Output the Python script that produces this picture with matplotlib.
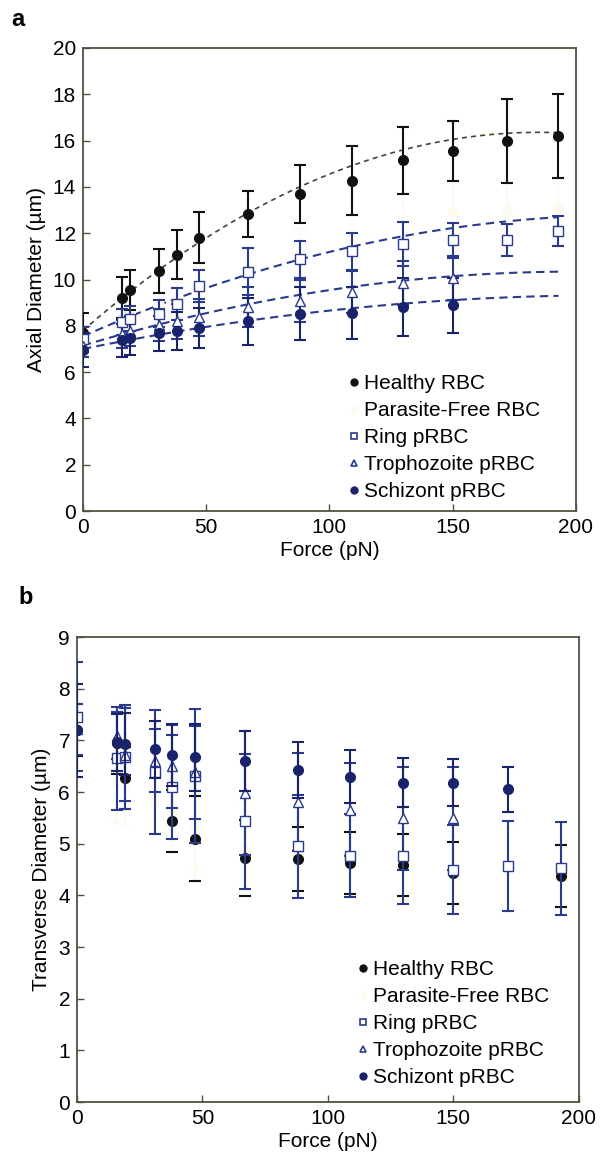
import numpy as np
import matplotlib
matplotlib.use('Agg')
import matplotlib.pyplot as plt
from matplotlib.lines import Line2D

plt.rcParams['font.family'] = ['Liberation Sans', 'DejaVu Sans']

# applied force (pN)
force = [0, 16, 19, 31, 38, 47, 67, 88, 109, 130, 150, 172, 193]
force_short = force[:11]
force_schiz_b = force[:12]

# panel a: axial diameter (um)
healthy_ax = [7.71, 9.22, 9.55, 10.36, 11.08, 11.8, 12.83, 13.69, 14.27, 15.15, 15.55, 15.99, 16.2]
healthy_ax_err = [0.86, 0.9, 0.85, 0.95, 1.05, 1.1, 1.0, 1.25, 1.5, 1.45, 1.3, 1.8, 1.8]
pfree_ax = [7.5, 8.3, 8.6, 8.9, 9.1, 9.6, 10.5, 11.1, 11.8, 12.6, 12.9, 13.0, 13.1]
pfree_ax_err = [0.6, 0.7, 0.7, 0.5, 0.8, 0.9, 0.9, 1.1, 0.95, 1.1, 1.3, 1.15, 1.2]
ring_ax = [7.43, 8.17, 8.31, 8.53, 8.93, 9.72, 10.34, 10.87, 11.23, 11.54, 11.69, 11.69, 12.09]
ring_ax_err = [0.5, 0.55, 0.55, 0.6, 0.7, 0.7, 1.0, 0.8, 0.8, 0.95, 0.75, 0.69, 0.66]
troph_ax = [7.14, 7.64, 7.78, 8.04, 8.19, 8.36, 8.82, 9.08, 9.46, 9.83, 10.05]
troph_ax_err = [0.5, 0.6, 0.65, 0.7, 0.75, 0.8, 0.85, 0.9, 0.9, 0.95, 0.95]
schiz_ax = [6.95, 7.38, 7.47, 7.67, 7.78, 7.9, 8.19, 8.53, 8.57, 8.82, 8.89]
schiz_ax_err = [0.75, 0.71, 0.72, 0.77, 0.83, 0.86, 1.0, 1.15, 1.12, 1.25, 1.18]

# quadratic trend lines of panel a (c2, c1, c0)
healthy_fit = [-2.5e-4, 0.0925, 7.8]
ring_fit = [-1.05e-4, 0.0469, 7.55]
troph_fit = [-7.97e-5, 0.0319, 7.15]
schiz_fit = [-5.03e-5, 0.0216, 7.0]

# panel b: transverse diameter (um)
healthy_tr = [7.2, 6.95, 6.28, np.nan, 5.43, 5.1, 4.72, 4.7, 4.62, 4.59, 4.43, np.nan, 4.37]
healthy_tr_err = [0.5, 0.6, 0.6, 0.6, 0.6, 0.82, 0.73, 0.62, 0.6, 0.6, 0.6, 0.6, 0.6]
pfree_tr = [7.2, 6.2, 6.1, 5.8, 5.55, 5.35, 4.9, 4.8, 4.7, 4.6, 4.5, 4.5, 4.4]
pfree_tr_err = [0.5, 0.8, 0.75, 0.6, 0.7, 0.8, 0.9, 0.7, 0.75, 0.7, 0.65, 0.8, 0.65]
ring_tr = [7.46, 6.65, 6.68, 6.39, 6.1, 6.31, 5.43, 4.95, 4.77, 4.77, 4.5, 4.57, 4.52]
ring_tr_err = [1.05, 1.0, 1.0, 1.2, 1.0, 1.3, 1.3, 1.0, 0.8, 0.94, 0.87, 0.87, 0.9]
troph_tr = [7.21, 7.09, 6.72, 6.61, 6.5, 6.38, 5.99, 5.8, 5.66, 5.49, 5.49]
troph_tr_err = [0.5, 0.45, 0.9, 0.6, 0.8, 0.9, 1.2, 0.95, 0.9, 1.0, 1.0]
schiz_tr = [7.2, 6.96, 6.93, 6.83, 6.72, 6.67, 6.6, 6.43, 6.3, 6.18, 6.18, 6.05]
schiz_tr_err = [0.9, 0.55, 0.6, 0.55, 0.6, 0.65, 0.58, 0.54, 0.51, 0.47, 0.46, 0.44]

labels = ['Healthy RBC', 'Parasite-Free RBC', 'Ring pRBC', 'Trophozoite pRBC', 'Schizont pRBC']

BLACK = '#111111'
PALE = '#fdfbef'
BLUE = '#2a3b8c'
NAVY = '#18236b'
FRAME = '#4b5540'


def draw_series(ax, x, y, err, color, marker, mfc, ms, capcolor=None, zorder=3):
    eb = ax.errorbar(x, y, yerr=err, fmt=marker, color=color, mfc=mfc, mec=color,
                     ms=ms, ecolor=color, elinewidth=1.5, capsize=4, capthick=1.5,
                     zorder=zorder)
    if capcolor is not None:
        for cl in eb[1]:
            cl.set_color(capcolor)
    return eb


def style_axes(ax, ylim, yticks):
    ax.set_xlim(0, 200)
    ax.set_ylim(*ylim)
    ax.set_xticks([0, 50, 100, 150, 200])
    ax.set_yticks(yticks)
    ax.tick_params(direction='in', length=5, width=1, labelsize=15, colors=FRAME,
                   labelcolor='black', pad=5)
    for sp in ax.spines.values():
        sp.set_color(FRAME)
        sp.set_linewidth(1.3)
    ax.set_xlabel('Force (pN)', fontsize=15, labelpad=3)


# legend keys: marker only, small
legend_keys = [
    Line2D([], [], ls='none', marker='o', color=BLACK, mfc=BLACK, ms=5),
    Line2D([], [], ls='none', marker='o', color=PALE, mfc=PALE, ms=5),
    Line2D([], [], ls='none', marker='s', color=BLUE, mfc='white', ms=4.5, mew=1.2),
    Line2D([], [], ls='none', marker='^', color=BLUE, mfc='white', ms=5, mew=1.2),
    Line2D([], [], ls='none', marker='o', color=NAVY, mfc=NAVY, ms=5),
]


def add_legend(ax, anchor):
    ax.legend(legend_keys, labels, loc='lower left', bbox_to_anchor=anchor,
              frameon=False, fontsize=15, handlelength=0.45, handletextpad=0.25,
              labelspacing=0.38, borderpad=0, borderaxespad=0)


fig = plt.figure(figsize=(6.06, 11.62), dpi=100)

# ---- panel a ----
ax1 = fig.add_axes([0.137, 0.5602, 0.813, 0.3985])
xfit = np.linspace(0, 193, 100)
ax1.plot(xfit, np.polyval(healthy_fit, xfit), color='#3a4a30', ls=(0, (3, 2.5)), lw=1.2, zorder=2)
for fit in (ring_fit, troph_fit, schiz_fit):
    ax1.plot(xfit, np.polyval(fit, xfit), color=BLUE, ls=(0, (4, 2.5)), lw=1.5, zorder=2)

draw_series(ax1, force, healthy_ax, healthy_ax_err, BLACK, 'o', BLACK, 7, zorder=4)
draw_series(ax1, force, pfree_ax, pfree_ax_err, PALE, 'o', PALE, 7, capcolor='#777766', zorder=3)
draw_series(ax1, force, ring_ax, ring_ax_err, BLUE, 's', 'white', 6.5, zorder=5)
draw_series(ax1, force_short, troph_ax, troph_ax_err, BLUE, '^', 'white', 7, zorder=5)
draw_series(ax1, force_short, schiz_ax, schiz_ax_err, NAVY, 'o', NAVY, 7, zorder=5)
style_axes(ax1, (0, 20), range(0, 21, 2))
ax1.set_ylabel('Axial Diameter (\u00b5m)', fontsize=15, labelpad=5)
add_legend(ax1, (0.54, 0.022))

# ---- panel b ----
ax2 = fig.add_axes([0.127, 0.0516, 0.828, 0.4002])
g1 = draw_series(ax2, force, healthy_tr, healthy_tr_err, BLACK, 'o', BLACK, 7, zorder=3)
g1[2][0].set_color(PALE)
draw_series(ax2, force, pfree_tr, pfree_tr_err, PALE, 'o', PALE, 7, capcolor='#555544', zorder=2)
draw_series(ax2, force, ring_tr, ring_tr_err, BLUE, 's', 'white', 6.5, zorder=4)
draw_series(ax2, force_short, troph_tr, troph_tr_err, BLUE, '^', 'white', 7, zorder=4)
draw_series(ax2, force_schiz_b, schiz_tr, schiz_tr_err, NAVY, 'o', NAVY, 7, zorder=5)
style_axes(ax2, (0, 9), range(0, 10))
ax2.set_ylabel('Transverse Diameter (\u00b5m)', fontsize=15, labelpad=5)
add_legend(ax2, (0.561, 0.032))

fig.text(0.018, 0.983, 'a', fontsize=17, fontweight='bold', va='center')
fig.text(0.03, 0.486, 'b', fontsize=17, fontweight='bold', va='center')

fig.savefig('out.png', dpi=100)
